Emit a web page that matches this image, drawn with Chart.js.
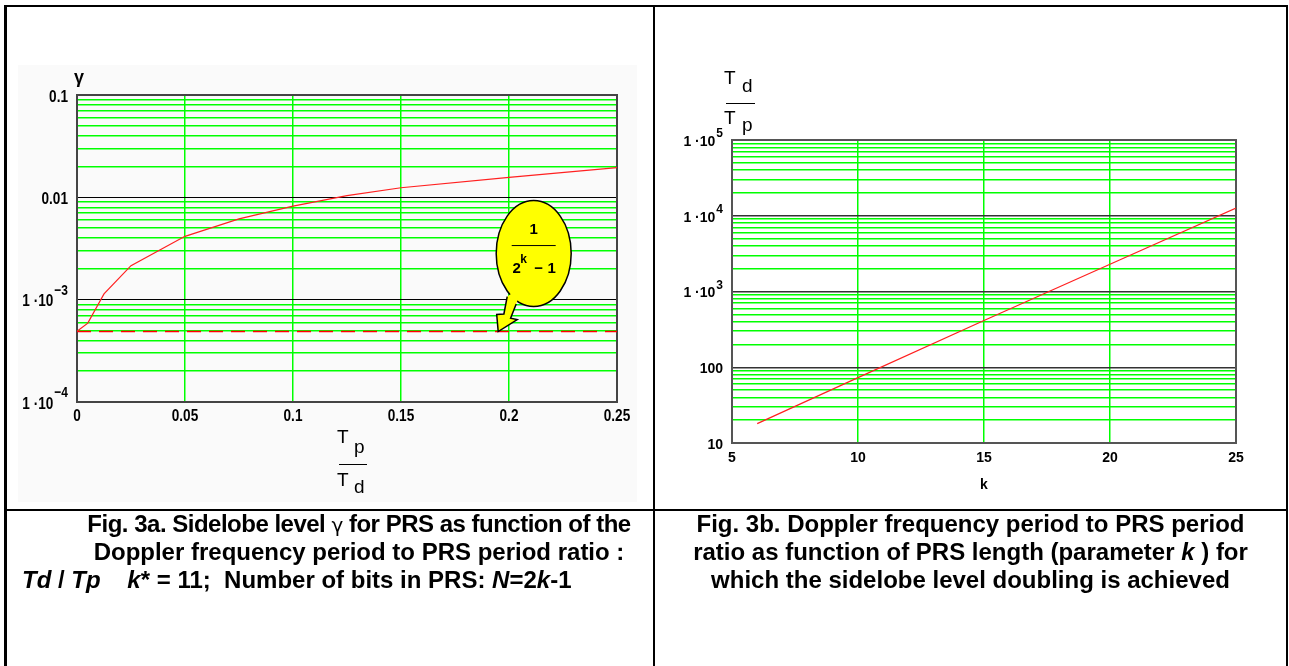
<!DOCTYPE html>
<html>
<head>
<meta charset="utf-8">
<script src="https://cdn.jsdelivr.net/npm/chart.js@4/dist/chart.umd.min.js"></script>
<style>
    body { margin: 0; background: #fff; }
    #page { position: relative; width: 1289px; height: 666px; overflow: hidden; font-family: "Liberation Sans", Arial, sans-serif; }
    #page canvas, #page div { position: absolute; }
    .rule { background: #000; }
    .panel-bg { background: #fafafa; }
    .mt { font-size: 19px; color: #000; line-height: 20px; }
    .bar { height: 1px; background: #000; }
    .caption { font-weight: bold; font-size: 24px; line-height: 28px; color: #000; white-space: pre; }
</style>
</head>
<body>
<div id="page">
    <div class="panel-bg" style="left:18px;top:65px;width:619px;height:437px"></div>
    <canvas class="gamma-chart" width="654" height="510" style="left:0;top:0"></canvas>
    <canvas class="ratio-chart" width="634" height="510" style="left:655px;top:0"></canvas>

    <!-- axis titles -->
    <div style="left:74px;top:67px;font-weight:bold;font-size:18px">γ</div>
    <div class="mt" style="left:337px;top:427px">T</div>
    <div class="mt" style="left:354px;top:437px">p</div>
    <div class="bar" style="left:339px;top:464px;width:28px"></div>
    <div class="mt" style="left:337px;top:470px">T</div>
    <div class="mt" style="left:354px;top:477px">d</div>

    <div class="mt" style="left:724px;top:68px">T</div>
    <div class="mt" style="left:742px;top:76px">d</div>
    <div class="bar" style="left:726px;top:103px;width:29px"></div>
    <div class="mt" style="left:724px;top:108px">T</div>
    <div class="mt" style="left:742px;top:115px">p</div>
    <div style="left:980px;top:476px;font-weight:bold;font-size:14px">k</div>

    <!-- table rules -->
    <div class="rule" style="left:4px;top:5px;width:1284px;height:2px"></div>
    <div class="rule" style="left:4px;top:5px;width:3px;height:661px"></div>
    <div class="rule" style="left:1286px;top:5px;width:2px;height:661px"></div>
    <div class="rule" style="left:653px;top:5px;width:2px;height:661px"></div>
    <div class="rule" style="left:4px;top:509px;width:1284px;height:2px"></div>

    <!-- captions -->
    <div class="caption" style="left:30px;top:510px;width:658px;text-align:center;letter-spacing:-0.5px">Fig. 3a. Sidelobe level <span style="font-family:'DejaVu Sans';font-weight:normal;font-size:20px">γ</span> for PRS as function of the</div>
    <div class="caption" style="left:30px;top:538px;width:658px;text-align:center">Doppler frequency period to PRS period ratio :</div>
    <div class="caption" style="left:22px;top:566px"><i>Td</i> / <i>Tp</i>    <i>k</i>* = 11;  Number of bits in PRS: <i>N</i>=2<i>k</i>-1</div>
    <div class="caption" style="left:655px;top:510px;width:631px;text-align:center">Fig. 3b. Doppler frequency period to PRS period
ratio as function of PRS length (parameter <i>k</i> ) for
which the sidelobe level doubling is achieved</div>
</div>

<script>
// Fig. 3a: sidelobe level gamma vs Tp/Td
const gammaX = [0, 0.005, 0.0125, 0.025, 0.05, 0.075, 0.1, 0.125, 0.15, 0.2, 0.25];
const gammaY = [4.9e-4, 5.9e-4, 1.14e-3, 2.15e-3, 4.16e-3, 6.15e-3, 8.2e-3, 1.04e-2, 1.24e-2, 1.57e-2, 1.95e-2];
const doublingLevel = 4.88e-4;   // 1 / (2^k - 1), k = 11
const calloutX = 0.195;

const gammaXTicks = [0, 0.05, 0.1, 0.15, 0.2, 0.25];
const gammaXTickLabels = ['0', '0.05', '0.1', '0.15', '0.2', '0.25'];
const gammaYTicks = [1e-4, 1e-3, 0.01, 0.1];
const gammaYTickBases = ['1 \u00B710', '1 \u00B710', '0.01', '0.1'];
const gammaYTickExps = ['\u22124', '\u22123', '', ''];

// Fig. 3b: Td/Tp vs k
const kValues = [6, 10, 15, 20, 25];
const ratioValues = [18, 73, 415, 2290, 12600];

const kTicks = [5, 10, 15, 20, 25];
const kTickLabels = ['5', '10', '15', '20', '25'];
const ratioYTicks = [10, 100, 1e3, 1e4, 1e5];
const ratioYTickBases = ['10', '100', '1 \u00B710', '1 \u00B710', '1 \u00B710'];
const ratioYTickExps = ['', '', '3', '4', '5'];

const gammaCanvas = document.querySelector('.gamma-chart');
const ratioCanvas = document.querySelector('.ratio-chart');

const plainFont = "'Liberation Sans', Arial, sans-serif";
const gridGreen = '#00ff00';

function isDecade(v) {
    const l = Math.log10(v);
    return Math.abs(l - Math.round(l)) < 1e-6;
}

// 1..9 x each decade, for the log grid
function logGridValues(min, max) {
    const values = [];
    for (let d = Math.round(Math.log10(min)); d < Math.round(Math.log10(max)); d++) {
        for (let m = 1; m <= 9; m++) values.push(m * Math.pow(10, d));
    }
    values.push(max);
    return values;
}

// text squeezed horizontally, returns drawn width
function drawSqueezed(ctx, text, x, y, align, sx) {
    ctx.save();
    ctx.translate(x, y);
    ctx.scale(sx, 1);
    ctx.textAlign = align;
    ctx.fillText(text, 0, 0);
    ctx.restore();
    return ctx.measureText(text).width * sx;
}

const plotFrame = {
    id: 'plotFrame',
    beforeDatasetsDraw(chart, args, opts) {
        const { ctx, chartArea: a } = chart;
        ctx.save();
        ctx.strokeStyle = opts.color;
        ctx.lineWidth = opts.width;
        ctx.strokeRect(a.left, a.top, a.right - a.left, a.bottom - a.top);
        ctx.restore();
    }
};

// tick labels, y ones with raised exponents (1·10^-3)
const axisLabels = {
    id: 'axisLabels',
    afterDraw(chart, args, opts) {
        const ctx = chart.ctx;
        const xs = chart.scales.x, ys = chart.scales.y;
        ctx.save();
        ctx.fillStyle = '#000';
        ctx.textBaseline = 'middle';
        opts.yValues.forEach((v, i) => {
            const y = ys.getPixelForValue(v);
            let x = opts.right;
            if (opts.yExps[i]) {
                ctx.font = opts.supFont;
                x -= drawSqueezed(ctx, opts.yExps[i], x, y + opts.supDy, 'right', opts.squeeze) + 1;
            }
            ctx.font = opts.font;
            drawSqueezed(ctx, opts.yBases[i], x, y + opts.baseDy, 'right', opts.squeeze);
        });
        ctx.font = opts.font;
        opts.xValues.forEach((v, i) => {
            drawSqueezed(ctx, opts.xLabels[i], xs.getPixelForValue(v), chart.chartArea.bottom + opts.xDy, 'center', opts.squeeze);
        });
        ctx.restore();
    }
};

// yellow balloon pointing at the dashed level
const callout = {
    id: 'callout',
    afterDatasetsDraw(chart, args, opts) {
        const ctx = chart.ctx;
        const tipX = chart.scales.x.getPixelForValue(opts.x);
        const tipY = chart.scales.y.getPixelForValue(opts.y);
        const cx = tipX + 35.5, cy = tipY - 78;
        const tail = [[9, -35], [5.7, -17.6], [-1.5, -17], [0, 0], [19, -12], [12.4, -13.3], [18, -27.6]];
        const inner = [24, -45];

        ctx.save();
        ctx.fillStyle = '#ffff00';
        ctx.strokeStyle = '#000';
        ctx.lineWidth = 1.5;
        ctx.lineJoin = 'miter';

        ctx.beginPath();
        ctx.ellipse(cx, cy, 37.5, 53, 0, 0, Math.PI * 2);
        ctx.fill();
        ctx.stroke();

        ctx.beginPath();
        ctx.moveTo(tipX + inner[0], tipY + inner[1]);
        tail.forEach(p => ctx.lineTo(tipX + p[0], tipY + p[1]));
        ctx.closePath();
        ctx.fill();

        ctx.beginPath();
        tail.forEach((p, i) => i ? ctx.lineTo(tipX + p[0], tipY + p[1]) : ctx.moveTo(tipX + p[0], tipY + p[1]));
        ctx.stroke();

        ctx.fillStyle = '#000';
        ctx.textAlign = 'center';
        ctx.textBaseline = 'middle';
        ctx.font = 'bold 15px ' + plainFont;
        ctx.fillText('1', cx, cy - 24);
        ctx.fillRect(cx - 22, cy - 8.5, 44, 1);
        ctx.fillText('2', cx - 17, cy + 15);
        ctx.fillText('\u2212', cx + 5, cy + 15);
        ctx.fillText('1', cx + 18, cy + 15);
        ctx.font = 'bold 12px ' + plainFont;
        ctx.fillText('k', cx - 10, cy + 6);
        ctx.restore();
    }
};

function logYScale(min, max, majorColor, majorWidth) {
    const grid = logGridValues(min, max);
    return {
        type: 'logarithmic',
        min: min,
        max: max,
        afterBuildTicks: scale => { scale.ticks = grid.map(v => ({ value: v })); },
        afterFit: scale => { scale.width = 60; },
        ticks: { display: false, autoSkip: false },
        border: { display: false },
        grid: {
            drawTicks: false,
            color: ctx => isDecade(ctx.tick.value) ? majorColor : gridGreen,
            lineWidth: ctx => isDecade(ctx.tick.value) ? majorWidth : 1.5
        }
    };
}

function linearXScale(min, max, ticks) {
    return {
        type: 'linear',
        min: min,
        max: max,
        afterBuildTicks: scale => { scale.ticks = ticks.map(v => ({ value: v })); },
        afterFit: scale => { scale.height = 30; },
        border: { display: false },
        grid: { drawTicks: false, color: gridGreen, lineWidth: 1.5 },
        ticks: { display: false, autoSkip: false }
    };
}

new Chart(gammaCanvas, {
    type: 'line',
    data: {
        datasets: [{
            label: 'gamma',
            data: gammaX.map((x, i) => ({ x: x, y: gammaY[i] })),
            borderColor: '#ff2020',
            borderWidth: 1.2,
            pointRadius: 0,
            tension: 0
        }, {
            label: '1/(2^k-1)',
            data: [{ x: gammaXTicks[0], y: doublingLevel }, { x: gammaXTicks[gammaXTicks.length - 1], y: doublingLevel }],
            borderColor: '#ff0000',
            borderWidth: 1.5,
            borderDash: [14, 8],
            pointRadius: 0
        }]
    },
    options: {
        responsive: false,
        animation: false,
        layout: { padding: { left: 17, right: 37, top: 95, bottom: 78 } },
        scales: {
            x: linearXScale(0, 0.25, gammaXTicks),
            y: logYScale(1e-4, 0.1, '#000', 1)
        },
        plugins: {
            legend: { display: false },
            tooltip: { enabled: false },
            plotFrame: { color: '#444', width: 2 },
            callout: { x: calloutX, y: doublingLevel },
            axisLabels: {
                yValues: gammaYTicks, yBases: gammaYTickBases, yExps: gammaYTickExps,
                xValues: gammaXTicks, xLabels: gammaXTickLabels,
                right: 68, baseDy: 2, supDy: -9, xDy: 14, squeeze: 0.8,
                font: 'bold 17px ' + plainFont, supFont: 'bold 15px ' + plainFont
            }
        }
    },
    plugins: [plotFrame, callout, axisLabels]
});

new Chart(ratioCanvas, {
    type: 'line',
    data: {
        datasets: [{
            label: 'Td/Tp',
            data: kValues.map((k, i) => ({ x: k, y: ratioValues[i] })),
            borderColor: '#ff2020',
            borderWidth: 1.2,
            pointRadius: 0,
            tension: 0
        }]
    },
    options: {
        responsive: false,
        animation: false,
        layout: { padding: { left: 17, right: 53, top: 140, bottom: 37 } },
        scales: {
            x: linearXScale(5, 25, kTicks),
            y: logYScale(10, 1e5, '#333', 1.5)
        },
        plugins: {
            legend: { display: false },
            tooltip: { enabled: false },
            plotFrame: { color: '#555', width: 2 },
            axisLabels: {
                yValues: ratioYTicks, yBases: ratioYTickBases, yExps: ratioYTickExps,
                xValues: kTicks, xLabels: kTickLabels,
                right: 68, baseDy: 2, supDy: -6, xDy: 15, squeeze: 1,
                font: 'bold 14px ' + plainFont, supFont: 'bold 12px ' + plainFont
            }
        }
    },
    plugins: [plotFrame, axisLabels]
});
</script>
</body>
</html>
